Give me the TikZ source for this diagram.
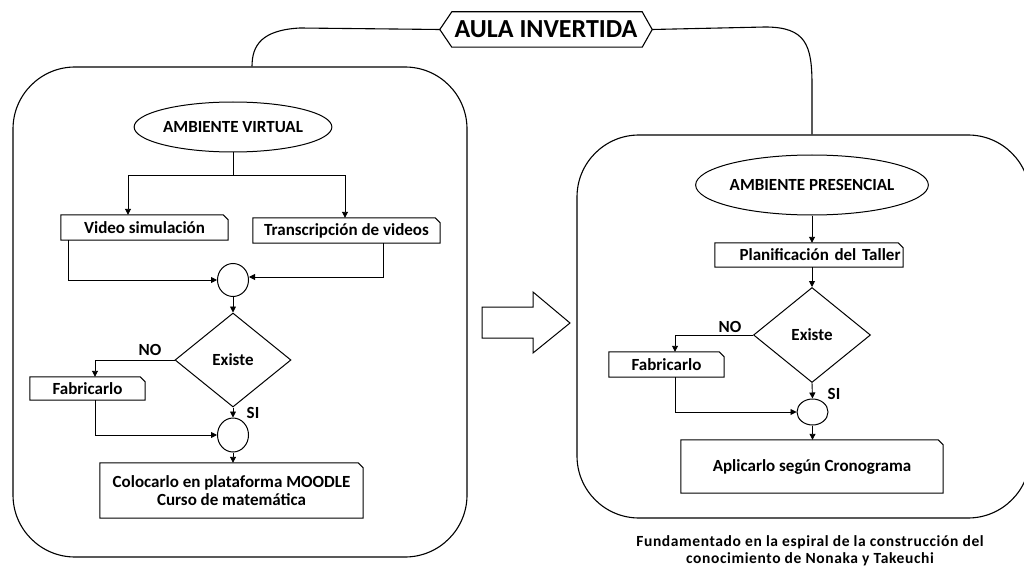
\documentclass[tikz,border=0pt]{standalone}
\usepackage{fontspec}
\setmainfont{Carlito}
\newfontfamily\notefont{Carlito}[LetterSpace=4]
\usetikzlibrary{shapes.geometric,arrows.meta,calc}

% outline of a box with its upper right corner cut off
\newcommand\snipoutline[1]{%
  \draw[boxline] (#1.south west) -- (#1.north west) -- ([xshift=-5pt]#1.north east)
    -- ([yshift=-5pt]#1.north east) -- (#1.south east) -- cycle;}

\begin{document}
\begin{tikzpicture}[x=1pt,y=-1pt,
  font=\bfseries\fontsize{17}{18}\selectfont,
  boxline/.style={draw=black, line width=1pt},
  panel/.style={draw=black, line width=1.1pt, rounded corners=62pt, inner sep=0pt},
  snipbox/.style={rectangle, inner sep=0pt, align=center},
  oval/.style={ellipse, draw=black, line width=1pt, inner sep=0pt},
  joint/.style={ellipse, draw=black, line width=1pt, inner sep=0pt},
  decision/.style={diamond, draw=black, line width=1pt, inner sep=0pt},
  conn/.style={draw=black, line width=0.9pt},
  arr/.style={conn, -{Triangle[length=6pt,width=6pt]}},
  lbl/.style={inner sep=0pt}
]
\useasboundingbox (0,0) rectangle (1024,572);

% title and the two panels
\node[inner sep=0pt, minimum width=212pt, minimum height=35pt,
      font=\bfseries\fontsize{26}{28}\selectfont] (title) at (546,29.5) {AULA INVERTIDA};
\draw[boxline, line width=1.1pt] (title.west) -- ([xshift=12pt]title.north west)
   -- ([xshift=-10pt]title.north east) -- (title.east)
   -- ([xshift=-10pt]title.south east) -- ([xshift=12pt]title.south west) -- cycle;

\node[panel, minimum width=454pt, minimum height=490pt] (lp) at (240,312) {};
\node[panel, minimum width=453pt, minimum height=383pt] (rp) at (803.5,326.5) {};

\draw[conn, line width=1.1pt] (title.west) -- (300,28)
   .. controls (262,30) and (252,45) .. ([xshift=12pt]lp.north);
\draw[conn, line width=1.1pt] (title.east) -- (765,27)
   .. controls (806,27) and (812,45) .. (812,85) -- ([xshift=8.5pt]rp.north);

% hollow arrow between the panels
\draw[line width=1pt] (482,307) -- (533,307) -- (533,292) -- (570,323)
   -- (533,353) -- (533,338) -- (482,338) -- cycle;

% virtual environment
\node[oval, minimum width=180pt, minimum height=50pt] (amb1) at (233,127) {AMBIENTE VIRTUAL};
\node[snipbox, minimum width=167pt, minimum height=25pt] (vid) at (144.5,227.5) {Video simulación};
\snipoutline{vid}
\node[snipbox, minimum width=187pt, minimum height=25pt] (trans) at (346.5,230.5) {Transcripción de videos};
\snipoutline{trans}
\node[joint, minimum width=31pt, minimum height=33pt] (c1) at (233,280) {};
\node[decision, minimum width=116pt, minimum height=94pt] (d1) at (233,360) {Existe};
\node[snipbox, minimum width=115pt, minimum height=23pt] (fab1) at (87.5,388.5) {Fabricarlo};
\snipoutline{fab1}
\node[joint, minimum width=31pt, minimum height=34pt] (c2) at (233,435) {};
\node[snipbox, minimum width=263pt, minimum height=55pt] (moodle) at (231.5,490.5)
   {Colocarlo en plataforma MOODLE\\Curso de matemática};
\snipoutline{moodle}
\node[lbl] (no1) at (150,350) {NO};
\node[lbl] (si1) at (253,413) {SI};

\draw[arr] (amb1.south) -- ++(0,23) -| ([xshift=-16.5pt]vid.north);
\draw[arr] (amb1.south) -- ++(0,23) -| ([xshift=-1.5pt]trans.north);
\draw[arr] ([xshift=-76.5pt]vid.south) |- (c1.west);
\draw[arr] ([xshift=36.5pt]trans.south) |- ([yshift=3pt]c1.east);
\draw[arr] (c1.south) -- (d1.north);
\draw[arr] (d1.west) -| ([xshift=7.5pt]fab1.north);
\draw[arr] ([xshift=7.5pt]fab1.south) |- (c2.west);
\draw[arr] (d1.south) -- (c2.north);
\draw[arr] (c2.south) -- (c2.south |- moodle.north);

% face-to-face environment
\node[oval, minimum width=180pt, minimum height=60pt] (amb2) at (812,185) {AMBIENTE PRESENCIAL};
\node[snipbox, minimum width=188pt, minimum height=24pt, text width=183pt, align=right] (plan) at (809,255)
   {Planificación del Taller};
\snipoutline{plan}
\node[decision, minimum width=117pt, minimum height=95pt] (d2) at (812,335) {Existe};
\node[snipbox, minimum width=115pt, minimum height=25pt] (fab2) at (666.5,364.5) {Fabricarlo};
\snipoutline{fab2}
\node[joint, minimum width=31pt, minimum height=26pt] (c3) at (812.5,412) {};
\node[snipbox, minimum width=262pt, minimum height=53pt] (apl) at (812,466.5) {Aplicarlo según Cronograma};
\snipoutline{apl}
\node[lbl] (no2) at (730,327) {NO};
\node[lbl] (si2) at (834,394) {SI};

\draw[arr] (amb2.south) -- (amb2.south |- plan.north);
\draw[arr] (d2.north |- plan.south) -- (d2.north);
\draw[arr] (d2.west) -| ([xshift=8.5pt]fab2.north);
\draw[arr] ([xshift=8.5pt]fab2.south) |- (c3.west);
\draw[arr] (d2.south) -- (c3.north);
\draw[arr] (c3.south) -- (c3.south |- apl.north);

% note under the right panel
\node[align=center, font=\notefont\bfseries\fontsize{15.5}{17.5}\selectfont] (note) at (810,551)
   {Fundamentado en la espiral de la construcción del\\conocimiento de Nonaka y Takeuchi};
\end{tikzpicture}
\end{document}
